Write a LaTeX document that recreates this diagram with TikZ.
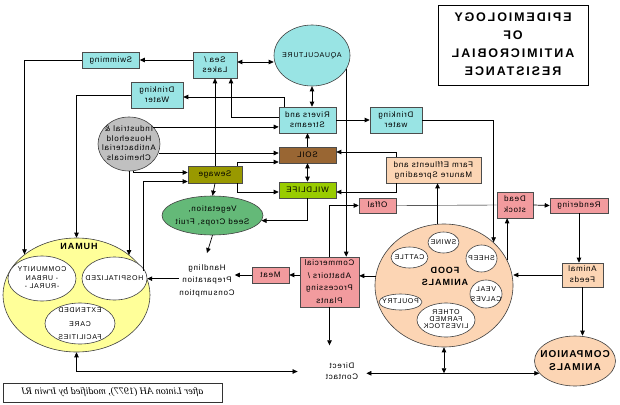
\documentclass[tikz,border=0pt]{standalone}
\usepackage{fontspec}
\usepackage{graphicx}
\setmainfont{Liberation Sans}[LetterSpace=10]
\newfontfamily\titlefont{Liberation Sans}[LetterSpace=15]
\newfontfamily\citefont{Liberation Serif}
\usetikzlibrary{arrows.meta,shapes.geometric}
\definecolor{Aqua}{RGB}{153,228,228}
\definecolor{Soil}{RGB}{153,102,51}
\definecolor{Wild}{RGB}{153,204,0}
\definecolor{Sew}{RGB}{153,153,0}
\definecolor{Veg}{RGB}{100,185,120}
\definecolor{Chem}{RGB}{192,192,192}
\definecolor{Peach}{RGB}{252,213,180}
\definecolor{Pink}{RGB}{242,155,158}
\definecolor{Hum}{RGB}{255,255,153}
% mirrored text, and the same with no size (for ellipses)
\newcommand\rf[2][1]{\reflectbox{\renewcommand\arraystretch{#1}\begin{tabular}{@{}c@{}}#2\end{tabular}}}
\newcommand\rz[2][1]{\smash{\makebox[0pt]{\raisebox{-.25em}{\rf[#1]{#2}}}}}

\begin{document}
\begin{tikzpicture}[x=1pt,y=-1pt,font=\fontsize{8}{10}\selectfont,
 sz/.style 2 args={minimum width=#1pt,minimum height=#2pt},
 b/.style={draw=black!70,line width=.6pt,inner sep=0pt},
 e/.style={ellipse,draw=black!75,line width=.6pt,inner sep=0pt},
 w/.style={e,fill=white,font=\fontsize{7}{8}\selectfont},
 t/.style={inner sep=0pt},
 a/.style={-{Triangle[length=5pt,width=4.5pt]},line width=.7pt},
 ab/.style={{Triangle[length=5pt,width=4.5pt]}-{Triangle[length=5pt,width=4.5pt]},line width=.7pt}]
\path[fill=white,use as bounding box] (0,0) rectangle (620,404);
\node[b,draw=black,line width=.9pt,sz={150}{80},font={\titlefont\bfseries\fontsize{12.5}{18}\selectfont}] (title) at (513,45) {\rf{EPIDEMIOLOGY\\OF\\ANTIMICROBIAL\\RESISTANCE}};
% water
\node[e,fill=Aqua,sz={76}{61},font=\fontsize{7}{8}\selectfont] (aqua) at (312,55.5) {\rz{AQUACULTURE}};
\node[b,fill=Aqua,sz={57}{16}] (swim) at (111,60) {\rf{Swimming}};
\node[b,fill=Aqua,sz={44}{26}] (sea) at (215,65) {\rf{Sea /\\Lakes}};
\node[b,fill=Aqua,sz={52}{26}] (dwl) at (157,95) {\rf{Drinking\\Water}};
\node[b,fill=Aqua,sz={57}{26}] (rivers) at (307.5,120) {\rf{Rivers and\\Streams}};
\node[b,fill=Aqua,sz={52}{26}] (dwr) at (396,120) {\rf{Drinking\\water}};
% land
\node[b,fill=Soil,sz={57}{16}] (soil) at (307.5,155) {\rf{SOIL}};
\node[b,fill=Wild,sz={57}{16}] (wild) at (307.5,190) {\rf{WILDLIFE}};
\node[b,fill=Sew,sz={54}{17}] (sew) at (215,174.5) {\rf{Sewage}};
\node[e,fill=Chem,sz={62}{54}] (ind) at (129,144) {\rz[.97]{Industrial \&\\Household\\Antibacterial\\Chemicals}};
\node[e,fill=Veg,sz={101}{39}] (veg) at (212.5,215.5) {\rz[1.3]{Vegetation,\\Seed Crops, Fruit}};
\node[b,fill=Peach,sz={95}{26}] (farm) at (433.5,170) {\rf{Farm Effluents and\\Manure Spreading}};
% animals
\node[b,fill=Pink,sz={37}{15}] (offal) at (377.5,205.5) {\rf{Offal}};
\node[b,fill=Pink,sz={36}{26}] (dead) at (515,205) {\rf[1.1]{Dead\\stock}};
\node[b,fill=Pink,sz={58}{15}] (rend) at (579,205.5) {\rf{Rendering}};
\node[b,fill=Peach,sz={41}{24}] (feeds) at (582.5,275) {\rf[1.1]{Animal\\Feeds}};
\node[e,fill=Peach,sz={81}{50},font=\fontsize{10}{10}\selectfont\bfseries] (comp) at (575,361) {\rz[1.3]{COMPANION\\ANIMALS}};
\node[e,fill=Peach,sz={138}{123}] (food) at (444,285.5) {};
\node[t,font=\fontsize{9}{12}\selectfont\bfseries] (foodt) at (445,277) {\rf{FOOD\\ANIMALS}};
\node[w,sz={31}{21}] (swine) at (443.5,242.5) {\rz{SWINE}};
\node[w,sz={37}{21}] (cattle) at (409.5,257.5) {\rz{CATTLE}};
\node[w,sz={31}{27}] (sheep) at (481.5,258.5) {\rz{SHEEP}};
\node[w,sz={32}{28}] (veal) at (486,294) {\rz[1.25]{VEAL\\CALVES}};
\node[w,sz={43}{16}] (poultry) at (400.5,302) {\rz{POULTRY}};
\node[w,sz={58}{34}] (other) at (446,320) {\rz[.9]{OTHER\\FARMED\\LIVESTOCK}};
\node[b,fill=Pink,sz={59}{50}] (comm) at (329.5,282) {\rf[1.25]{Commercial\\Abattoirs /\\Processing\\Plants}};
\node[b,fill=Pink,sz={37}{16}] (meat) at (270.5,275) {\rf{Meat}};
\node[t] (hand) at (207,280) {\rf[1.25]{Handling\\Preparation\\Consumption}};
\node[t] (direct) at (342,371.5) {\rf[1.1]{Direct\\Contact}};
% humans
\node[e,fill=Hum,sz={147}{114}] (human) at (76.5,295) {};
\node[t,font=\fontsize{9}{12}\selectfont\bfseries] (humant) at (79,247) {\rf{HUMAN}};
\node[w,sz={68}{45}] (commu) at (42,278.5) {\rz[1.06]{COMMUNITY\\- URBAN\\-RURAL -}};
\node[w,sz={65}{43}] (hosp) at (114.5,278.5) {\rz{HOSPITALIZED}};
\node[w,sz={70}{41}] (ext) at (80,323.5) {\rz[1.7]{EXTENDED\\CARE\\FACILITIES}};
\node[b,draw=black!80,sz={219}{19},font=\citefont\itshape\fontsize{10}{12}\selectfont] (cite) at (112.5,392.5) {\rf{after Linton AH (1977), modified by Irwin RJ}};
% water paths
\draw[ab] ([yshift=3]sea.east) -- ([yshift=3]sea.east -| aqua.west);
\draw[a] (swim.east -| sea.west) -- (swim.east);
\draw[a] (swim.west) -| (human.142);
\draw[a] (dwl.west) -| (human.north);
\draw[ab] (aqua.south) -- (aqua.south |- rivers.north);
\draw[a] ([yshift=3]rivers.west) -| ([xshift=16]sea.south);
\draw[a] ([xshift=-23.5]rivers.north) |- ([yshift=-2]dwl.east);
\draw[a] (rivers.east) -- (dwr.west);
\draw[a] (dwr.east) -| (food.41);
\draw[a] (aqua.-22) -- (aqua.-22 |- comm.north);
% chemicals and sewage
\draw[a] (ind.35) -- (ind.35 -| rivers.west);
\draw[a] (ind.-17) -- (ind.-17 -| soil.west);
\draw[a] (ind.-80) |- ([yshift=2]sew.west);
\draw[a] (ind.south) -- (ind.south |- human.37);
\draw[a] (human.20) |- ([yshift=-7]sew.west);
\draw[a] (sew.north) -- (sea.south);
\draw[a] (sew.south) -- (veg.north);
\draw[a] ([xshift=22]sew.north) |- ([yshift=-7]soil.west);
\draw[a] ([xshift=22]sew.south) |- ([yshift=-2]wild.west);
% soil and wildlife
\draw[a] (soil.north) -- (rivers.south);
\draw[ab] (soil.south) -- (wild.north);
\draw[a] (wild.south) |- (veg.-6);
\draw[a] ([xshift=-37.5]farm.north) |- ([yshift=3]soil.east);
\draw[a] ([xshift=-37.5]farm.south) |- ([yshift=-2]wild.east);
\draw[a] (food.96) -- (food.96 |- farm.south);
% food chain
\draw[a] (veg.south) -- ([yshift=8]hand.north);
\draw[a] (food.172) -- (food.172 -| comm.east);
\draw[a] (meat.east -| comm.west) -- (meat.east);
\draw[a] (meat.west) -- (meat.west -| hand.east);
\draw[a] (hand.west |- human.13) -- (human.13);
\draw[a] (comm.north) |- (offal.west);
\draw (offal.east) -- (dead.west);
\draw[a] (dead.east) -- (rend.west);
\draw[a] (food.22) -- (food.22 |- dead.south);
\draw[a] (rend.south) -- (rend.south |- feeds.north);
\draw[a] (feeds.west) -- (feeds.west -| food.east);
\draw[a] (feeds.south) -- (feeds.south |- comp.north);
% direct contact
\draw[a] (comm.south) -- ([yshift=15]comm.south |- direct.north);
\draw[ab] ([xshift=-28]direct.west) -| (human.south);
\draw[ab] ([xshift=8]direct.east |- comp.199) -- (comp.199);
\draw[ab] (food.south) -- (food.south |- comp.199);
\end{tikzpicture}
\end{document}
